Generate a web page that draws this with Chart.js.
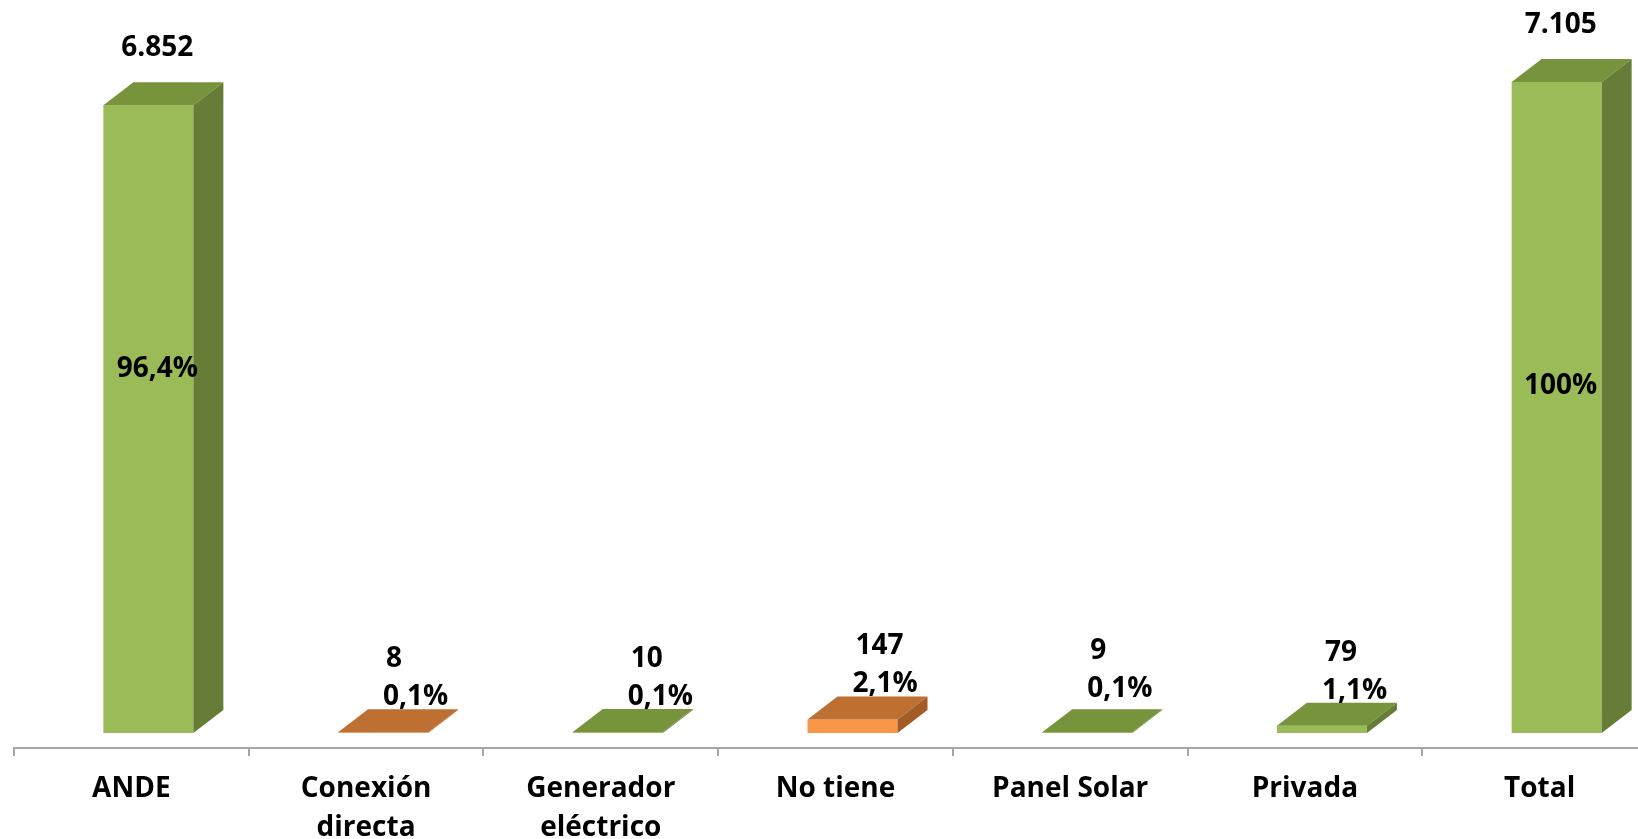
<!DOCTYPE html>
<html>
<head>
<meta charset="utf-8">
<script src="https://cdn.jsdelivr.net/npm/chart.js@4/dist/chart.umd.min.js"></script>
<style>
  html, body { margin: 0; padding: 0; background: #ffffff; overflow: hidden; width: 1638px; height: 839px; }
  #wrap { width: 1638px; height: 839px; position: relative; overflow: hidden; }
  canvas { display: block; }
</style>
</head>
<body>
<div id="wrap"><canvas id="c" width="1660" height="839"></canvas></div>
<script>
// ---- data ----
const categories = ['ANDE', ['Conexión', 'directa'], ['Generador', 'eléctrico'], 'No tiene', 'Panel Solar', 'Privada', 'Total'];
const values = [6852, 8, 10, 147, 9, 79, 7105];
const valueLabels = ['6.852', '8', '10', '147', '9', '79', '7.105'];
const percentLabels = ['96,4%', '0,1%', '0,1%', '2,1%', '0,1%', '1,1%', '100%'];
const colorGroup = ['green', 'orange', 'green', 'orange', 'green', 'green', 'green'];

// ---- style ----
const PALETTE = {
  green:  { front: '#9BBB59', top: '#77933C', side: '#667D37' },
  orange: { front: '#F79646', top: '#BE7033', side: '#A45C27' }
};
const DEPTH_X = 30, DEPTH_Y = 23, SHIFT_X = 17, BAR_W = 90;
const FONT_FAMILY = '"Open Sans", "Liberation Sans", sans-serif';
const FONT = 'bold 28px ' + FONT_FAMILY;
// label nudges (x, y) per category, purely presentational
const valueNudge = { 0: [9, 0], 2: [10, 0], 4: [0, -8], 6: [4, 0] };
const pctNudge = { 0: [9, -50], 2: [10, 0], 4: [0, -8], 6: [4, -21] };

const bars3d = {
  id: 'bars3d',
  afterDatasetsDraw(chart) {
    const ctx = chart.ctx;
    const meta = chart.getDatasetMeta(0);
    const area = chart.chartArea;
    ctx.save();
    // extend axis line to the right edge
    ctx.strokeStyle = '#A6A6A6';
    ctx.lineWidth = 2;
    ctx.beginPath();
    ctx.moveTo(area.right - 1, area.bottom + 1);
    ctx.lineTo(chart.width, area.bottom + 1);
    ctx.stroke();

    meta.data.forEach((el, i) => {
      const pal = PALETTE[colorGroup[i]];
      const x0 = el.x - BAR_W / 2 + SHIFT_X;
      const x1 = x0 + BAR_W;
      const yTop = el.y;
      const yBase = el.base;
      // front
      ctx.fillStyle = pal.front;
      ctx.fillRect(x0, yTop, BAR_W, yBase - yTop);
      // top
      ctx.fillStyle = pal.top;
      ctx.beginPath();
      ctx.moveTo(x0, yTop);
      ctx.lineTo(x0 + DEPTH_X, yTop - DEPTH_Y);
      ctx.lineTo(x1 + DEPTH_X, yTop - DEPTH_Y);
      ctx.lineTo(x1, yTop);
      ctx.closePath();
      ctx.fill();
      // side
      ctx.fillStyle = pal.side;
      ctx.beginPath();
      ctx.moveTo(x1, yTop);
      ctx.lineTo(x1 + DEPTH_X, yTop - DEPTH_Y);
      ctx.lineTo(x1 + DEPTH_X, yBase - DEPTH_Y);
      ctx.lineTo(x1, yBase);
      ctx.closePath();
      ctx.fill();

      // labels
      ctx.fillStyle = '#000000';
      ctx.font = FONT;
      ctx.textBaseline = 'middle';
      const fc = x0 + BAR_W / 2;
      const backTop = yTop - DEPTH_Y;
      const vn = valueNudge[i] || [0, 0];
      const pn = pctNudge[i] || [0, 0];
      if (yBase - yTop > 200) {
        ctx.textAlign = 'center';
        ctx.fillText(valueLabels[i], fc + vn[0], backTop - 34 + vn[1]);
        ctx.fillText(percentLabels[i], fc + pn[0], (yTop + yBase) / 2 + pn[1]);
      } else {
        ctx.textAlign = 'left';
        ctx.fillText(valueLabels[i], fc + 3 + vn[0], backTop - 50 + vn[1]);
        ctx.fillText(percentLabels[i], fc + pn[0], backTop - 12 + pn[1]);
      }
    });
    ctx.restore();
  }
};

new Chart(document.getElementById('c'), {
  type: 'bar',
  data: {
    labels: categories,
    datasets: [{
      data: values,
      backgroundColor: 'rgba(0,0,0,0)',
      borderWidth: 0,
      barThickness: BAR_W
    }]
  },
  options: {
    responsive: false,
    animation: false,
    devicePixelRatio: 1,
    layout: { padding: { left: 14, right: 3, top: 0, bottom: 0 } },
    plugins: { legend: { display: false }, tooltip: { enabled: false } },
    scales: {
      x: {
        grid: { display: true, drawOnChartArea: false, drawTicks: true, tickLength: 8, color: '#A6A6A6', lineWidth: 2, offset: true },
        border: { display: true, color: '#A6A6A6', width: 2 },
        ticks: {
          color: '#000000',
          font: { family: FONT_FAMILY, size: 28, weight: 'bold', lineHeight: 1.39 },
          padding: 14,
          maxRotation: 0,
          autoSkip: false
        },
        afterFit(scale) { scale.height = 91; }
      },
      y: {
        display: false,
        min: -164,
        max: 8000
      }
    }
  },
  plugins: [bars3d]
});
</script>
</body>
</html>
